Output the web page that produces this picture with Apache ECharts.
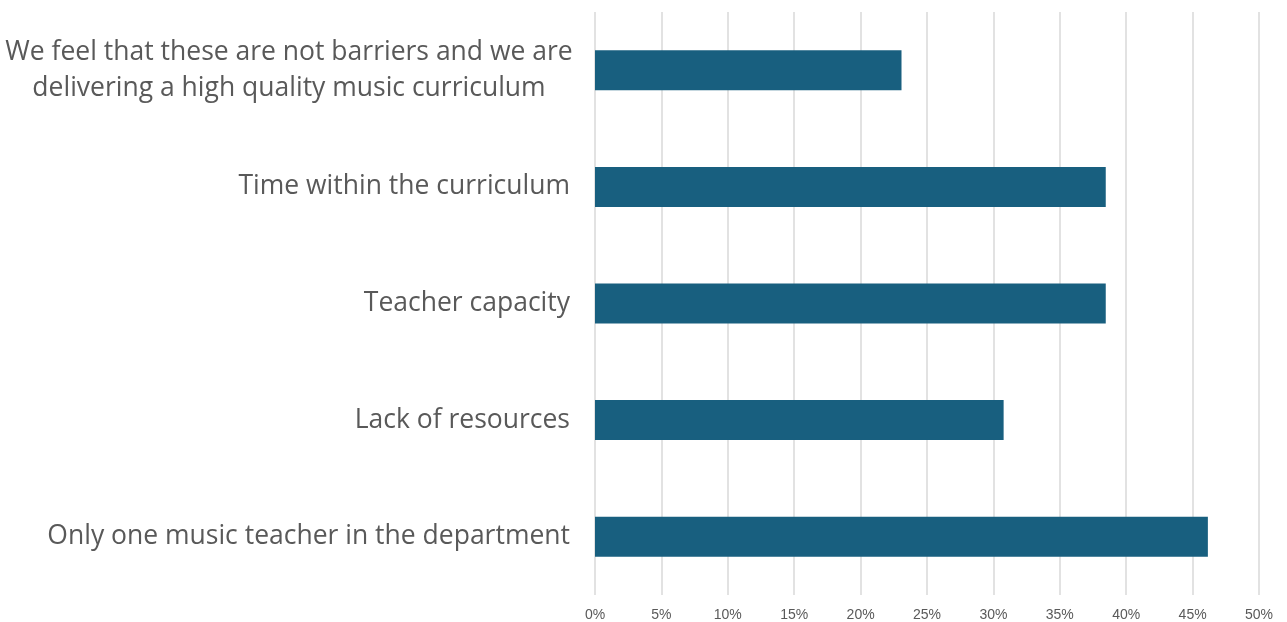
<!DOCTYPE html>
<html><head><meta charset="utf-8">
<script src="https://cdn.jsdelivr.net/npm/echarts@6/dist/echarts.min.js"></script>
<style>html,body{margin:0;padding:0;background:#fff}#c{width:1287px;height:622px}</style>
</head><body><div id="c"></div>
<script>
const categories = [
  "Only one music teacher in the department",
  "Lack of resources",
  "Teacher capacity",
  "Time within the curriculum",
  "We feel that these are not barriers and we are\ndelivering a high quality music curriculum"
];
const values = [46.15, 30.77, 38.46, 38.46, 23.08];
const xTicks = [0, 5, 10, 15, 20, 25, 30, 35, 40, 45, 50];

const FONT = 'Open Sans';
const FS = 26.5;
const chart = echarts.init(document.getElementById('c'), null, {renderer: 'canvas'});
chart.setOption({
  animation: false,
  grid: {left: 595, right: 28, top: 12, bottom: 27, containLabel: false},
  xAxis: {
    type: 'value', min: 0, max: 50, interval: 5,
    axisLine: {show: false}, axisTick: {show: false},
    splitLine: {show: true, lineStyle: {color: '#d9d9d9', width: 1.5}},
    axisLabel: {formatter: v => v + '%', color: '#595959', fontSize: 14, margin: 13,
      fontFamily: 'Liberation Sans'}
  },
  yAxis: {
    type: 'category', data: categories,
    axisLine: {show: false}, axisTick: {show: false},
    axisLabel: {
      margin: 25, color: '#595959', fontSize: FS, fontFamily: FONT,
      formatter: v => v.indexOf('\n') >= 0
        ? v.split('\n').map(s => '{c|' + s + '}').join('\n')
        : '{n|' + v + '}',
      rich: {
        c: {width: 562, align: 'center', fontSize: FS, lineHeight: 36, color: '#595959', fontFamily: FONT},
        n: {fontSize: FS, color: '#595959', fontFamily: FONT}
      }
    }
  },
  series: [{
    type: 'bar', data: values, barWidth: 40,
    itemStyle: {color: '#185f7f'}
  }]
});
</script></body></html>
